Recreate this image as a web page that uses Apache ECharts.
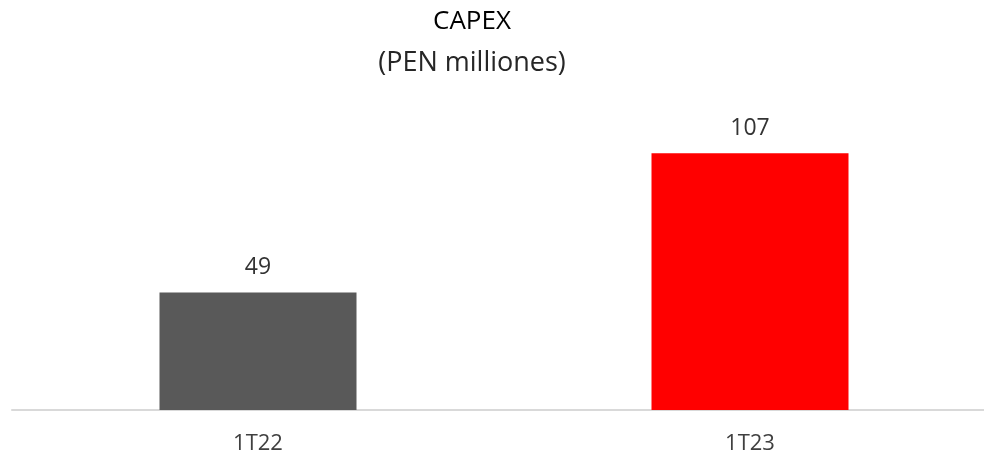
<!DOCTYPE html>
<html>
<head>
<meta charset="utf-8">
<script src="https://cdn.jsdelivr.net/npm/echarts@6/dist/echarts.min.js"></script>
<style>
html,body{margin:0;padding:0;background:#fff;overflow:hidden;}
#chart{width:996px;height:457px;}
</style>
</head>
<body>
<div id="chart"></div>
<script>
const titleText = 'CAPEX';
const subtitleText = '(PEN milliones)';
const categories = ['1T22', '1T23'];
const values = [49, 107];
const barColors = ['#595959', '#FF0000'];

const chart = echarts.init(document.getElementById('chart'));
chart.setOption({
  animation: false,
  backgroundColor: '#ffffff',
  title: [
    { text: titleText, left: 467, textAlign: 'center', top: 4,
      textStyle: { fontFamily: 'Open Sans', fontSize: 26, fontWeight: 'normal', color: '#000000' } },
    { text: subtitleText, left: 467, textAlign: 'center', top: 45,
      textStyle: { fontFamily: 'Open Sans', fontSize: 27, fontWeight: 'normal', color: '#262626' } }
  ],
  grid: { left: 12, top: 122, right: 0, height: 288, containLabel: false },
  xAxis: {
    type: 'category',
    data: categories,
    axisLine: { show: true, lineStyle: { color: '#D9D9D9', width: 2 } },
    axisTick: { show: false },
    axisLabel: { margin: 23, fontFamily: 'Open Sans', fontSize: 22, color: '#404040' }
  },
  yAxis: {
    type: 'value', min: 0, max: 120,
    show: false,
    splitLine: { show: false }
  },
  series: [{
    type: 'bar',
    data: values.map((v, i) => ({ value: v, itemStyle: { color: barColors[i] } })),
    barWidth: 197,
    label: { show: true, position: 'top', distance: 13, fontFamily: 'Open Sans', fontSize: 23, color: '#333333' }
  }]
});
</script>
</body>
</html>
